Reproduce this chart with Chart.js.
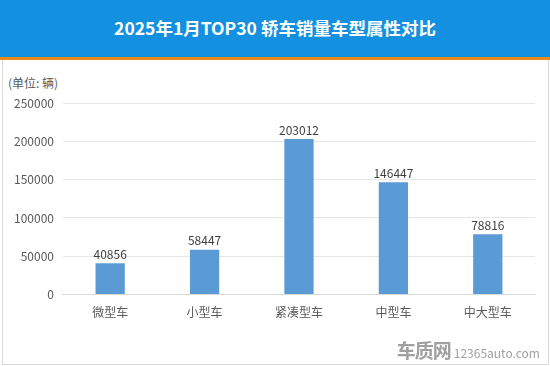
<!DOCTYPE html>
<html>
<head>
<meta charset="utf-8">
<script src="https://cdn.jsdelivr.net/npm/chart.js@4.4.1/dist/chart.umd.min.js"></script>
<style>
  html, body { margin:0; padding:0; background:#fff; }
  #wrap { position:relative; width:550px; height:366px; overflow:hidden; font-family:"Noto Sans CJK SC","Noto Sans",sans-serif; }
  #title { position:absolute; left:0; top:0; width:550px; height:57px; background:#1490e0; border-bottom:3px solid #e8891c;
           color:#fff; font-weight:bold; font-size:17.5px; line-height:56px; text-align:center; }
  #frame { position:absolute; left:2px; top:60px; width:545px; height:304px; border:1px solid #d9d9d9; border-top:none; }
  #unit { position:absolute; left:8px; top:74px; font-size:12px; color:#595959; }
  #chartBox { position:absolute; left:0; top:60px; width:550px; height:306px; }
  #wm { position:absolute; right:10px; bottom:3px; color:#a0a0a0; white-space:nowrap; }
  #wm .a { font-size:19px; font-weight:bold; letter-spacing:-1px; }
  #wm .b { font-size:12px; margin-left:3px; }
</style>
</head>
<body>
<div id="wrap">
  <div id="title">2025年1月TOP30 轿车销量车型属性对比</div>
  <div id="frame"></div>
  <div id="unit">(单位: 辆)</div>
  <div id="chartBox"><canvas id="c" width="550" height="306"></canvas></div>
  <div id="wm"><span class="a">车质网</span><span class="b">12365auto.com</span></div>
</div>
<script>
const categories = ["微型车", "小型车", "紧凑型车", "中型车", "中大型车"];
const sales = [40856, 58447, 203012, 146447, 78816];
const yTicks = [0, 50000, 100000, 150000, 200000, 250000];

const valueLabels = {
  id: 'valueLabels',
  afterDatasetsDraw(chart) {
    const ctx = chart.ctx;
    const meta = chart.getDatasetMeta(0);
    ctx.save();
    ctx.font = '12px "Noto Sans CJK SC", "Noto Sans", sans-serif';
    ctx.fillStyle = '#404040';
    ctx.textAlign = 'center';
    ctx.textBaseline = 'bottom';
    meta.data.forEach((bar, i) => {
      ctx.fillText(String(chart.data.datasets[0].data[i]), bar.x, bar.y - 3);
    });
    ctx.restore();
  }
};

new Chart(document.getElementById('c'), {
  type: 'bar',
  data: {
    labels: categories,
    datasets: [{
      data: sales,
      backgroundColor: '#5b9bd5',
      categoryPercentage: 1.0,
      barPercentage: 0.31
    }]
  },
  options: {
    responsive: false,
    animation: false,
    devicePixelRatio: 1,
    layout: { padding: { left: 5, right: 15, top: 43, bottom: 43 } },
    plugins: { legend: { display: false }, tooltip: { enabled: false } },
    scales: {
      x: {
        grid: { display: false },
        border: { color: '#d9d9d9' },
        ticks: { color: '#595959', font: { size: 12, family: '"Noto Sans CJK SC", sans-serif' }, padding: 3 }
      },
      y: {
        min: 0, max: 250000,
        afterBuildTicks(axis) { axis.ticks = yTicks.map(v => ({ value: v })); },
        grid: { color: '#e6e6e6', drawTicks: false },
        border: { display: false },
        ticks: { color: '#595959', font: { size: 12, family: '"Noto Sans CJK SC", sans-serif' }, padding: 9,
                 callback: v => String(v) }
      }
    }
  },
  plugins: [valueLabels]
});
</script>
</body>
</html>
